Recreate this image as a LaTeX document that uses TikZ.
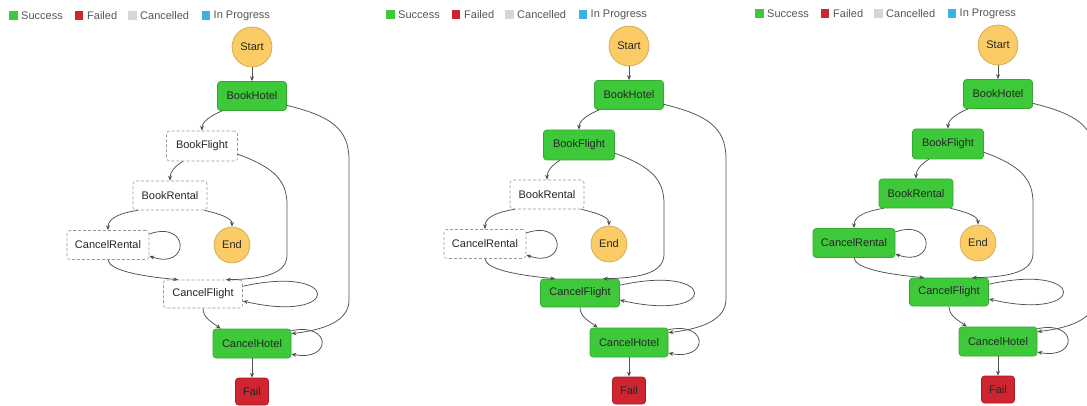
\documentclass[tikz,border=0pt]{standalone}
\usepackage{fontspec}
\setmainfont{Liberation Sans}
\usetikzlibrary{arrows.meta,calc}
\definecolor{okgreen}{HTML}{3DC93A}
\definecolor{okgreenb}{HTML}{35A832}
\definecolor{failred}{HTML}{CF2530}
\definecolor{failredb}{HTML}{A81C25}
\definecolor{termfill}{HTML}{FBCB66}
\definecolor{termdraw}{HTML}{C9A050}
\definecolor{cancgray}{HTML}{D6D6D6}
\definecolor{progblue}{HTML}{3BB2E3}
\definecolor{edgegray}{HTML}{505050}
\definecolor{legtext}{HTML}{555555}
\tikzset{
  base/.style={rectangle, rounded corners=3pt, minimum height=29pt, inner sep=0pt, font=\fontsize{11}{13}\selectfont, text=black!85},
  succ/.style={base, fill=okgreen, draw=okgreenb, line width=0.6pt},
  canc/.style={base, fill=white, draw=black!40, dashed, dash pattern=on 3pt off 2pt, line width=0.6pt},
  failst/.style={base, fill=failred, draw=failredb, line width=0.6pt},
  term/.style={circle, fill=termfill, draw=termdraw, line width=0.6pt, inner sep=0pt, font=\fontsize{11}{13}\selectfont, text=black!85},
  edge/.style={draw=edgegray, line width=0.75pt, -{Stealth[length=5pt,width=4pt]}},
  legsq/.style={rectangle, minimum size=8.5pt, inner sep=0pt},
  legtx/.style={anchor=west, inner sep=0pt, font=\fontsize{11}{13}\selectfont, text=legtext},
}
% #1 prefix, #2 x-shift, #3 y-shift, #4 BookFlight style, #5 BookRental style, #6 CancelRental style, #7 CancelFlight style
\newcommand\sagapanel[7]{%
\begin{scope}[xshift=#2, yshift=#3]
  % legend
  \node[legsq, fill=okgreen] (#1ls) at (13.5,15.5) {};
  \node[legtx] (#1lst) at (21,15.5) {Success};
  \node[legsq, fill=failred] (#1lf) at (79,15.5) {};
  \node[legtx] (#1lft) at (87,15.5) {Failed};
  \node[legsq, fill=cancgray] (#1lc) at (132.5,15.5) {};
  \node[legtx] (#1lct) at (140,15.5) {Cancelled};
  \node[legsq, fill=progblue] (#1lp) at (206,15.5) {};
  \node[legtx] (#1lpt) at (213.5,15.5) {In Progress};
  % states
  \node[term, minimum size=40pt] (#1S) at (252,47) {Start};
  \node[succ, minimum width=69pt] (#1BH) at (252,96) {BookHotel};
  \node[#4, minimum width=71pt, minimum height=30pt] (#1BF) at (202,146) {BookFlight};
  \node[#5, minimum width=74pt] (#1BR) at (170,195.5) {BookRental};
  \node[#6, minimum width=82pt] (#1CR) at (108,245) {CancelRental};
  \node[term, minimum size=36pt] (#1E) at (232,245) {End};
  \node[#7, minimum width=79pt, minimum height=28pt] (#1CF) at (203,294) {CancelFlight};
  \node[succ, minimum width=78pt] (#1CH) at (252,343.5) {CancelHotel};
  \node[failst, minimum width=33pt, minimum height=27pt] (#1F) at (252,391.5) {Fail};
  % transitions
  \draw[edge] (#1S) -- (#1BH);
  \draw[edge] ($(#1BH.south west)+(5,0)$) .. controls (210,116) and (202,122) .. (#1BF.north);
  \draw[edge] (#1BH.-15) .. controls (330,116) and (349,128) .. (349,160) -- (349,300) .. controls (349,322) and (322,330) .. (#1CH.14);
  \draw[edge] ($(#1BF.south)+(-19,0)$) .. controls (175,166) and (170,172) .. (#1BR.north);
  \draw[edge] (#1BF.-13) .. controls (276,168) and (287,182) .. (287,205) -- (287,255) .. controls (287,273) and (266,279) .. (#1CF.32);
  \draw[edge] ($(#1BR.south west)+(5,0)$) .. controls (115,214) and (108,220) .. (#1CR.north);
  \draw[edge] ($(#1BR.south east)+(-3,0)$) .. controls (220,214) and (232,218) .. (#1E.north);
  \draw[edge] (#1CR.15) .. controls (190,220) and (190,270) .. (#1CR.-15);
  \draw[edge] (#1CR.south) .. controls (109,270) and (138,276) .. (#1CF.150);
  \draw[edge] (#1CF.11) .. controls (342,264) and (342,324) .. (#1CF.-10);
  \draw[edge] (#1CF.south) .. controls (203,318) and (212,322) .. ($(#1CH.north west)+(8,0)$);
  \draw[edge] (#1CH.18) .. controls (332,322) and (332,362) .. (#1CH.-15);
  \draw[edge] (#1CH) -- (#1F);
\end{scope}}
\begin{document}
\begin{tikzpicture}[x=1pt,y=-1pt]
  \useasboundingbox (0,0) rectangle (1087,406);
  \sagapanel{a}{0pt}{0pt}{canc}{canc}{canc}{canc}
  \sagapanel{b}{377pt}{1pt}{succ}{canc}{canc}{succ}
  \sagapanel{c}{746pt}{2pt}{succ}{succ}{succ}{succ}
\end{tikzpicture}
\end{document}
